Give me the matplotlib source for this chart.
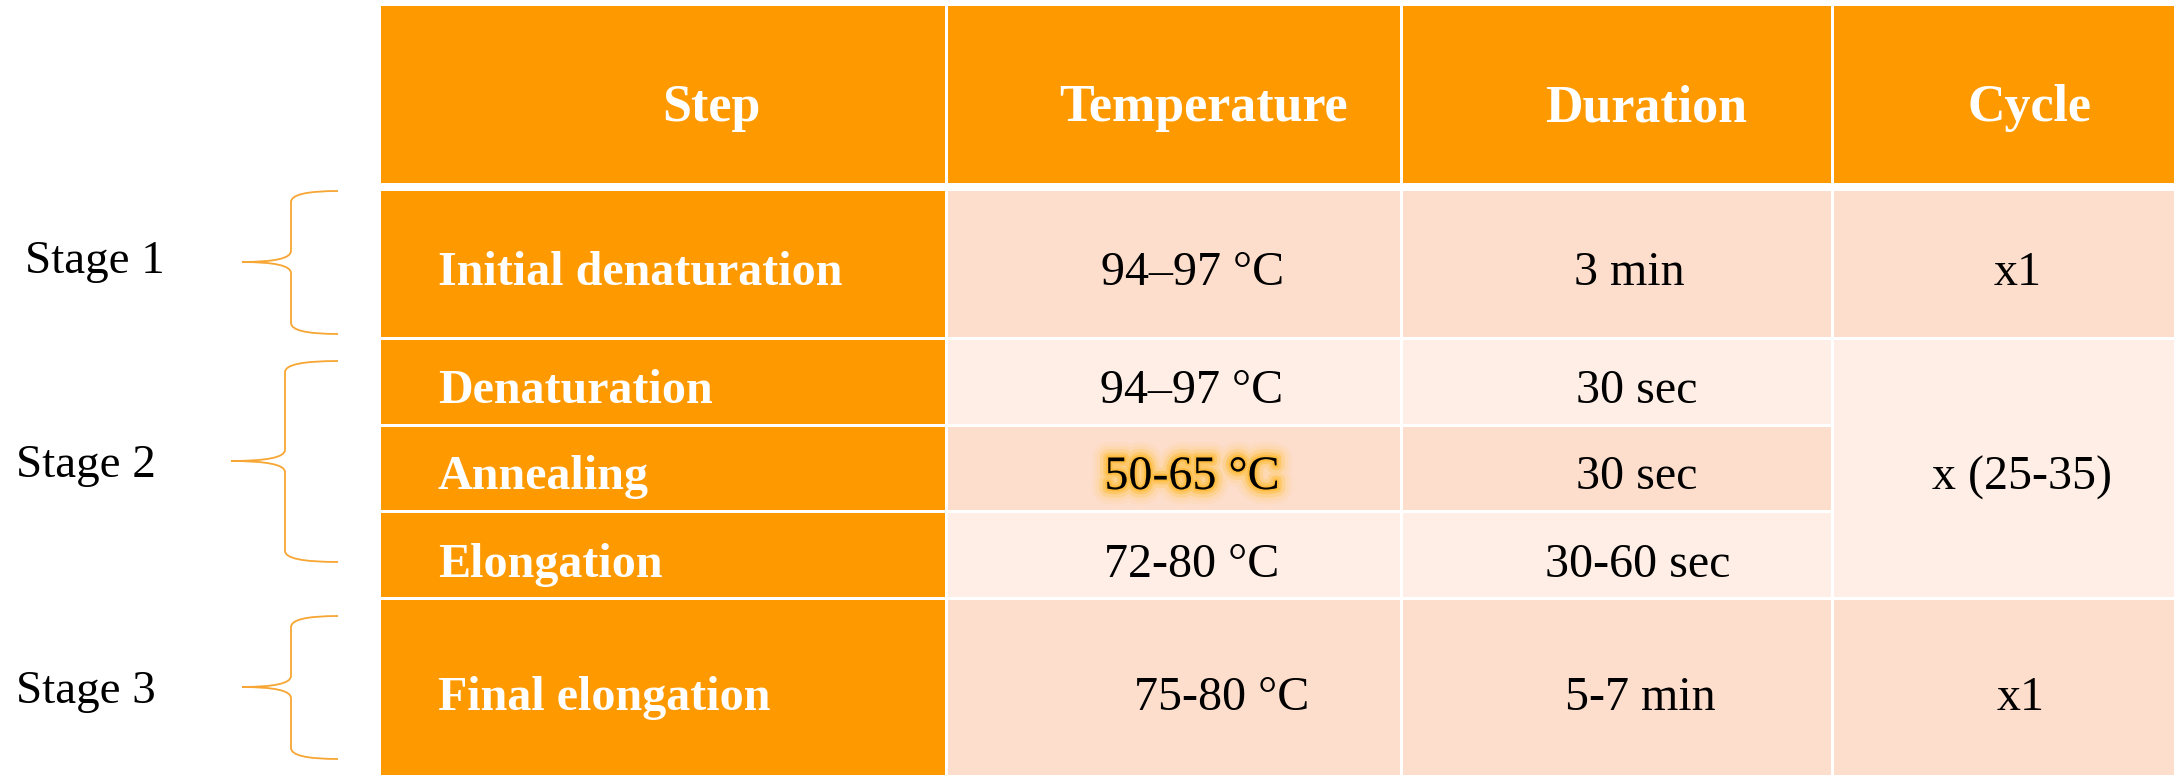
import matplotlib
matplotlib.use("Agg")
import matplotlib.pyplot as plt
from matplotlib.patches import Rectangle, PathPatch
from matplotlib.path import Path
import matplotlib.patheffects as pe

# ---------------- data ----------------
headers = ["Step", "Temperature", "Duration", "Cycle"]
steps = ["Initial denaturation", "Denaturation", "Annealing", "Elongation", "Final elongation"]
temperatures = ["94\u201397 \u00b0C", "94\u201397 \u00b0C", "50-65 \u00b0C", "72-80 \u00b0C", "75-80 \u00b0C"]
durations = ["3 min", "30 sec", "30 sec", "30-60 sec", "5-7 min"]
cycles = ["x1", "x (25-35)", "x1"]
cycle_spans = [(0, 0), (1, 3), (4, 4)]          # row index ranges covered by each cycle cell
stages = ["Stage 1", "Stage 2", "Stage 3"]
stage_spans = [(0, 0), (1, 3), (4, 4)]
highlight_row = 2                               # annealing temperature is highlighted

# ---------------- layout (pixels) ----------------
W, H = 2174, 775
ORANGE = "#FE9A00"
DARK = "#FDDDCB"
LIGHT = "#FEEEE6"
BRACE = "#F7A633"

col_edges = [(381, 945), (948, 1400), (1403, 1831), (1834, 2174)]
header_box = (6, 183)
row_edges = [(191, 337), (340, 424), (427, 510), (513, 597), (600, 775)]
row_fill = [DARK, LIGHT, DARK, LIGHT, DARK]

header_x = [711, 1204, 1646, 2030]
header_base = 121
row_base = [285, 403, 489, 577, 710]
step_x = 438
temp_x = [1193, 1192, 1192, 1192, 1222]
dur_x = [1629, 1637, 1637, 1638, 1640]
cycle_x = [2018, 2022, 2021]
cycle_base = [285, 490, 710]

stage_x = [25, 16, 16]
stage_base = [273, 477, 703]
brace_geom = [  # (x_end, x_vertical, x_tip, y_top, y_mid, y_bot)
    (338, 291, 242, 191, 262, 334),
    (338, 285, 231, 361, 461, 562),
    (338, 291, 242, 616, 687, 759),
]

FONT = "Liberation Serif"
PX = 0.72  # px -> pt at dpi 100

fig = plt.figure(figsize=(W / 100, H / 100), dpi=100)
ax = fig.add_axes([0, 0, 1, 1])
ax.set_xlim(0, W)
ax.set_ylim(H, 0)
ax.axis("off")

# header
for (x0, x1) in col_edges:
    ax.add_patch(Rectangle((x0, header_box[0]), x1 - x0, header_box[1] - header_box[0],
                           facecolor=ORANGE, edgecolor="none"))
for txt, x in zip(headers, header_x):
    ax.text(x, header_base, txt, ha="center", va="baseline", color="white",
            fontsize=52 * PX, fontweight="bold", family=FONT)

# body cells (first three columns)
for i, (y0, y1) in enumerate(row_edges):
    for j in range(3):
        x0, x1 = col_edges[j]
        fc = ORANGE if j == 0 else row_fill[i]
        ax.add_patch(Rectangle((x0, y0), x1 - x0, y1 - y0, facecolor=fc, edgecolor="none"))
# cycle column (merged cells)
for (r0, r1), lab, x, yb in zip(cycle_spans, cycles, cycle_x, cycle_base):
    x0, x1 = col_edges[3]
    y0, y1 = row_edges[r0][0], row_edges[r1][1]
    fc = LIGHT if r1 > r0 else row_fill[r0]
    ax.add_patch(Rectangle((x0, y0), x1 - x0, y1 - y0, facecolor=fc, edgecolor="none"))
    ax.text(x, yb, lab, ha="center", va="baseline", color="black",
            fontsize=48 * PX, family=FONT)

glow = [pe.Stroke(linewidth=22, foreground="#FFD27A", alpha=0.12),
        pe.Stroke(linewidth=17, foreground="#FFCC66", alpha=0.18),
        pe.Stroke(linewidth=12, foreground="#FFC550", alpha=0.3),
        pe.Stroke(linewidth=7, foreground="#FFBF40", alpha=0.5),
        pe.Stroke(linewidth=3, foreground="#FDB830", alpha=0.7),
        pe.Normal()]

for i in range(len(steps)):
    yb = row_base[i]
    ax.text(step_x, yb, steps[i], ha="left", va="baseline", color="white",
            fontsize=48 * PX, fontweight="bold", family=FONT)
    t = ax.text(temp_x[i], yb, temperatures[i], ha="center", va="baseline", color="black",
                fontsize=48 * PX, family=FONT)
    if i == highlight_row:
        t.set_path_effects(glow)
    ax.text(dur_x[i], yb, durations[i], ha="center", va="baseline", color="black",
            fontsize=48 * PX, family=FONT)

# stage labels and braces
def brace_path(xe, xv, xt, yt, ym, yb, r=11):
    verts = [(xe, yt), (xv, yt), (xv, yt + r),
             (xv, ym - r),
             (xv, ym), (xt, ym),
             (xt, ym), (xv, ym), (xv, ym + r),
             (xv, yb - r),
             (xv, yb), (xe, yb)]
    codes = [Path.MOVETO, Path.CURVE3, Path.CURVE3,
             Path.LINETO,
             Path.CURVE3, Path.CURVE3,
             Path.MOVETO, Path.CURVE3, Path.CURVE3,
             Path.LINETO,
             Path.CURVE3, Path.CURVE3]
    return Path(verts, codes)

for lab, x, yb, g in zip(stages, stage_x, stage_base, brace_geom):
    ax.text(x, yb, lab, ha="left", va="baseline", color="black",
            fontsize=47 * PX, family=FONT)
    ax.add_patch(PathPatch(brace_path(*g), facecolor="none", edgecolor=BRACE, linewidth=1.3))

fig.savefig("out.png", dpi=100, facecolor="white")
